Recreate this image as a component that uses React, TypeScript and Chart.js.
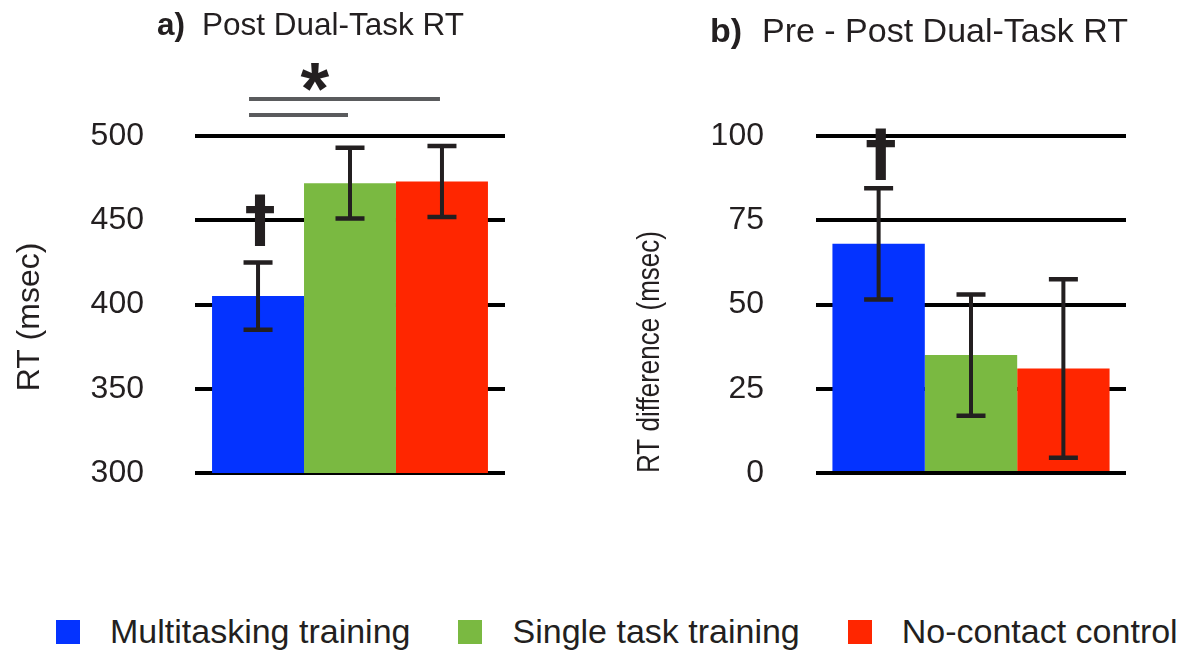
import React, { useEffect, useRef } from 'react';
import { Chart, registerables } from 'chart.js';

Chart.register(...registerables);

// ---------------- data ----------------
const groups = ['Multitasking training', 'Single task training', 'No-contact control'];
const groupColors = ['#0433ff', '#7ab941', '#ff2600'];

const postRT = [405, 472, 473];
const postRTErr = [20, 21, 21];
const postTicks = [300, 350, 400, 450, 500];

const diffRT = [68, 35, 31];
const diffRTErr = [16.5, 18, 26.5];
const diffTicks = [0, 25, 50, 75, 100];

const headingA = ['a)', 'Post Dual-Task RT'];
const headingB = ['b)', 'Pre - Post Dual-Task RT'];
const yTitleA = 'RT (msec)';
const yTitleB = 'RT difference (msec)';

// significance brackets (panel a): from group, to group, level in msec
const bracketFrom = [0, 0];
const bracketTo = [2, 1];
const bracketLevel = [522, 512.5];
const sigStar = '*';
const daggerMark = '\u2020';

// ---------------- styling ----------------
const FONT = "'Liberation Sans', Arial, Helvetica, sans-serif";
const DAGGER_FONT = "'DejaVu Sans', 'Liberation Sans', sans-serif";
const INK = '#231f20';

type PanelCfg = {
  values: number[];
  errors: number[];
  ticks: number[];
  heading: string[];
  headingX: number[];
  headingBase: number;
  headingSize: number;
  yTitle: string;
  yTitleX: number;
  yTitleY: number;
  yTitleSize: number;
  yTitleLen: number;
  axisWidth: number;
  tickPad: number;
  padRight: number;
  catPct: number;
  daggerGap: number;
  daggerH: number;
  brackets: boolean;
};

function drawGlyph(
  ctx: CanvasRenderingContext2D,
  ch: string,
  family: string,
  cx: number,
  top: number,
  bottom: number,
  targetW?: number
) {
  const h = bottom - top;
  ctx.font = `bold 100px ${family}`;
  const m = ctx.measureText(ch);
  const gh = m.actualBoundingBoxAscent + m.actualBoundingBoxDescent;
  const size = (100 * h) / gh;
  ctx.font = `bold ${size}px ${family}`;
  const m2 = ctx.measureText(ch);
  const gw = m2.actualBoundingBoxRight + m2.actualBoundingBoxLeft;
  const sx = targetW ? targetW / gw : 1;
  ctx.save();
  ctx.textAlign = 'left';
  ctx.textBaseline = 'alphabetic';
  ctx.translate(cx, bottom);
  ctx.scale(sx, 1);
  const baseline = -m2.actualBoundingBoxDescent;
  const x = -(m2.actualBoundingBoxRight - m2.actualBoundingBoxLeft) / 2;
  ctx.fillStyle = INK;
  ctx.fillText(ch, x, baseline);
  ctx.restore();
}

function decorPlugin(p: PanelCfg) {
  return {
    id: 'panelDecor',
    afterDatasetsDraw(chart: any) {
      const ctx: CanvasRenderingContext2D = chart.ctx;
      const y = chart.scales.y;
      const bars = chart.data.datasets.map((_: any, i: number) => chart.getDatasetMeta(i).data[0]);
      ctx.save();
      // error bars
      bars.forEach((b: any, i: number) => {
        const v = p.values[i];
        const e = p.errors[i];
        const t = y.getPixelForValue(v + e);
        const bt = y.getPixelForValue(v - e);
        ctx.strokeStyle = INK;
        ctx.lineCap = 'butt';
        ctx.lineWidth = 4;
        ctx.beginPath();
        ctx.moveTo(b.x, t);
        ctx.lineTo(b.x, bt);
        ctx.stroke();
        ctx.lineWidth = 4.5;
        ctx.beginPath();
        ctx.moveTo(b.x - 14.5, t);
        ctx.lineTo(b.x + 14.5, t);
        ctx.moveTo(b.x - 14.5, bt);
        ctx.lineTo(b.x + 14.5, bt);
        ctx.stroke();
      });
      // dagger above the multitasking bar
      const b0 = bars[0];
      const errTop = y.getPixelForValue(p.values[0] + p.errors[0]);
      const dBottom = errTop - p.daggerGap;
      drawGlyph(ctx, daggerMark, DAGGER_FONT, b0.x + 2, dBottom - p.daggerH, dBottom, 29);
      // significance brackets
      if (p.brackets) {
        ctx.strokeStyle = '#5a5b5d';
        ctx.lineWidth = 4;
        let topY = Infinity;
        bracketFrom.forEach((f, k) => {
          const yy = y.getPixelForValue(bracketLevel[k]);
          topY = Math.min(topY, yy);
          ctx.beginPath();
          ctx.moveTo(bars[f].x - 9, yy);
          ctx.lineTo(bars[bracketTo[k]].x - 2, yy);
          ctx.stroke();
        });
        const cx = (bars[0].x + bars[1].x) / 2 + 11;
        drawGlyph(ctx, sigStar, FONT, cx, topY - 36, topY - 8);
      }
      ctx.restore();
    },
    afterDraw(chart: any) {
      const ctx: CanvasRenderingContext2D = chart.ctx;
      ctx.save();
      ctx.fillStyle = INK;
      ctx.textAlign = 'left';
      ctx.textBaseline = 'alphabetic';
      ctx.font = `bold ${p.headingSize}px ${FONT}`;
      ctx.fillText(p.heading[0], p.headingX[0], p.headingBase);
      ctx.font = `${p.headingSize}px ${FONT}`;
      ctx.fillText(p.heading[1], p.headingX[1], p.headingBase);
      // y-axis title (condensed to the reference length)
      ctx.font = `${p.yTitleSize}px ${FONT}`;
      const w = ctx.measureText(p.yTitle).width;
      ctx.translate(p.yTitleX, p.yTitleY);
      ctx.rotate(-Math.PI / 2);
      ctx.scale(Math.min(1, p.yTitleLen / w), 1);
      ctx.textAlign = 'center';
      ctx.textBaseline = 'middle';
      ctx.fillText(p.yTitle, 0, 0);
      ctx.restore();
    },
  };
}

function makeConfig(p: PanelCfg): any {
  return {
    type: 'bar',
    data: {
      labels: [''],
      datasets: groups.map((g, i) => ({
        label: g,
        data: [p.values[i]],
        backgroundColor: groupColors[i],
        borderWidth: 0,
        categoryPercentage: p.catPct,
        barPercentage: 1,
      })),
    },
    options: {
      animation: false,
      responsive: false,
      devicePixelRatio: 1,
      layout: { padding: { top: 136, bottom: 87, left: 0, right: p.padRight } },
      plugins: {
        legend: { display: false },
        tooltip: { enabled: false },
        title: { display: false },
      },
      scales: {
        x: { display: false },
        y: {
          min: p.ticks[0],
          max: p.ticks[p.ticks.length - 1],
          ticks: {
            stepSize: p.ticks[1] - p.ticks[0],
            font: { family: FONT, size: 32 },
            color: INK,
            padding: p.tickPad,
          },
          grid: { color: '#000000', lineWidth: 4, drawTicks: false },
          border: { display: false },
          afterFit: (s: any) => {
            s.width = p.axisWidth;
          },
        },
      },
    },
    plugins: [decorPlugin(p)],
  };
}

const panelA: PanelCfg = {
  values: postRT,
  errors: postRTErr,
  ticks: postTicks,
  heading: headingA,
  headingX: [157, 202],
  headingBase: 35,
  headingSize: 31.5,
  yTitle: yTitleA,
  yTitleX: 30,
  yTitleY: 317,
  yTitleSize: 32,
  yTitleLen: 152,
  axisWidth: 195,
  tickPad: 51,
  padRight: 95,
  catPct: 0.89,
  daggerGap: 16,
  daggerH: 52,
  brackets: true,
};

const panelB: PanelCfg = {
  values: diffRT,
  errors: diffRTErr,
  ticks: diffTicks,
  heading: headingB,
  headingX: [110, 162],
  headingBase: 42,
  headingSize: 34,
  yTitle: yTitleB,
  yTitleX: 50,
  yTitleY: 352,
  yTitleSize: 32,
  yTitleLen: 242,
  axisWidth: 216,
  tickPad: 52,
  padRight: 62,
  catPct: 0.894,
  daggerGap: 8,
  daggerH: 51,
  brackets: false,
};

function PanelChart({ cfg, width, height }: { cfg: PanelCfg; width: number; height: number }) {
  const ref = useRef<HTMLCanvasElement | null>(null);
  useEffect(() => {
    if (!ref.current) return;
    const chart = new Chart(ref.current, makeConfig(cfg));
    return () => chart.destroy();
  }, [cfg]);
  return <canvas ref={ref} width={width} height={height} style={{ display: 'block', width, height }} />;
}

export default function App() {
  return (
    <div
      style={{
        position: 'absolute',
        left: 0,
        top: 0,
        width: 1188,
        height: 652,
        background: '#ffffff',
        overflow: 'hidden',
        fontFamily: FONT,
      }}
    >
      <div style={{ position: 'absolute', left: 0, top: 0 }}>
        <PanelChart cfg={panelA} width={600} height={560} />
      </div>
      <div style={{ position: 'absolute', left: 600, top: 0 }}>
        <PanelChart cfg={panelB} width={588} height={560} />
      </div>
      <div
        style={{
          position: 'absolute',
          left: 0,
          top: 614,
          width: 1188,
          display: 'flex',
          alignItems: 'flex-start',
          paddingLeft: 56,
          boxSizing: 'border-box',
        }}
      >
        {groups.map((g, i) => (
          <div key={g} style={{ display: 'flex', alignItems: 'flex-start', marginRight: 48 }}>
            <div style={{ width: 24, height: 24, marginTop: 6, marginRight: 30, background: groupColors[i] }} />
            <div style={{ fontSize: 34, lineHeight: '34px', color: INK, whiteSpace: 'nowrap' }}>{g}</div>
          </div>
        ))}
      </div>
    </div>
  );
}
